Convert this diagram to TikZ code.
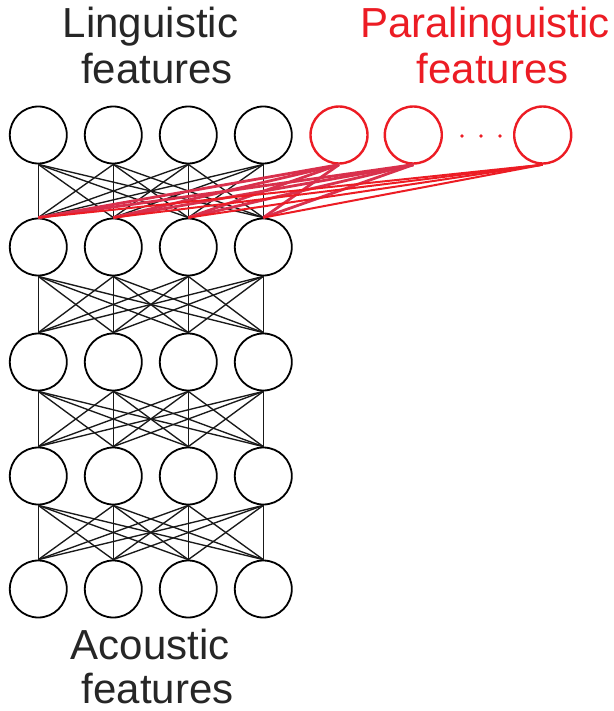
\documentclass[tikz,border=0pt]{standalone}
\usepackage{fontspec}
\setmainfont{Liberation Sans}
\definecolor{nred}{HTML}{EC1C24}
\definecolor{lred}{HTML}{D9304C}
\begin{document}
\begin{tikzpicture}[x=1pt,y=-1pt,
  neuron/.style={circle,draw,line width=1.8pt,minimum size=57pt,inner sep=0pt},
  pneuron/.style={neuron,draw=nred,line width=2.4pt},
  conn/.style={line width=1.35pt,black!90},
  pconn/.style={line width=2.8pt,lred},
  pconnthin/.style={line width=2pt,nred},
  lab/.style={anchor=base,inner sep=0pt,font=\fontsize{42}{46}\selectfont,text=black!85}]
\useasboundingbox (0,0) rectangle (613,711);
% neurons
\foreach \r/\y in {1/135,2/247,3/362,4/476,5/589}{
  \foreach \c/\x in {1/38.3,2/113.3,3/188.3,4/263.3}{
    \node[neuron] (c\r\c) at (\x,\y) {};
  }
}
\node[pneuron] (p1) at (339,135) {};
\node[pneuron] (p2) at (413.3,135) {};
\node[pneuron] (p3) at (542.7,135) {};
\fill[nred] (462,136) circle (1.8pt) (481,136) circle (1.8pt) (500,136) circle (1.8pt);
% connections
\foreach \r/\n in {1/2,2/3,3/4,4/5}{
  \foreach \a in {1,2,3,4}{
    \foreach \b in {1,2,3,4}{
      \draw[conn] (c\r\a.south) -- (c\n\b.north);
    }
  }
}
\foreach \p in {1,2}{
  \foreach \b in {1,2,3,4}{
    \draw[pconn] (p\p.south) -- (c2\b.north);
  }
}
\foreach \b in {1,2,3,4}{
  \draw[pconnthin] (p3.south) -- (c2\b.north);
}
% labels
\node[lab] (l1) at (150.5,37.3) {Linguistic};
\node[lab] (l2) at (157,83.3) {features};
\node[lab,text=nred] (r1) at (485,37.3) {Paralinguistic};
\node[lab,text=nred] (r2) at (492.5,83.3) {features};
\node[lab] (a1) at (150,659.3) {Acoustic};
\node[lab] (a2) at (157.5,703) {features};
\end{tikzpicture}
\end{document}
